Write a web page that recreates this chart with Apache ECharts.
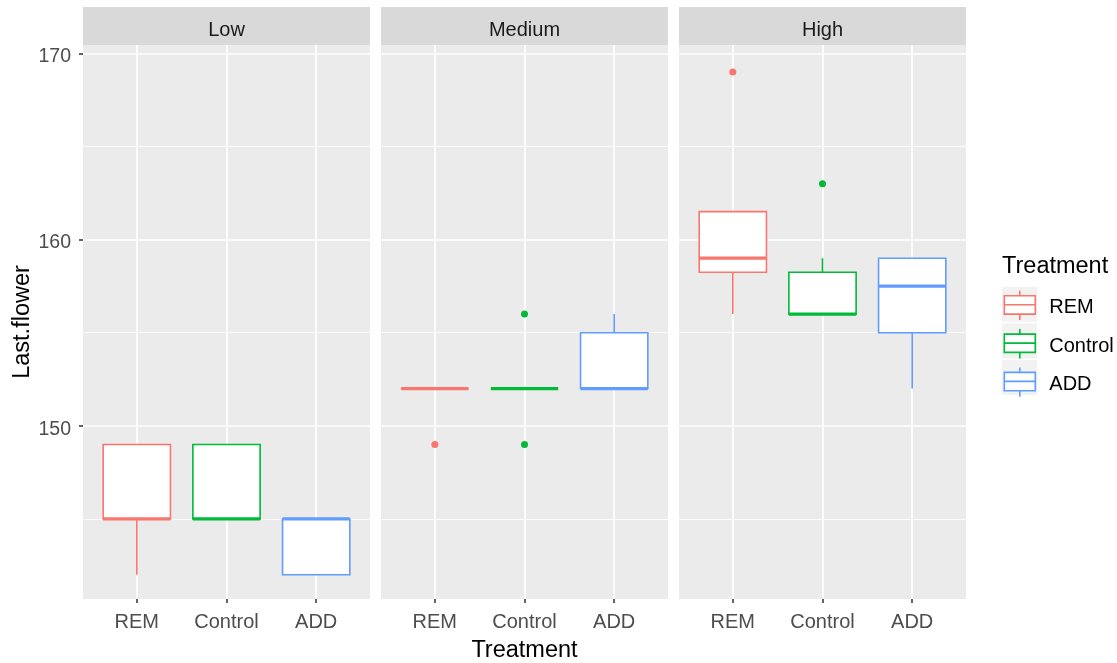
<!DOCTYPE html>
<html>
<head>
<meta charset="utf-8">
<title>Last.flower by Treatment</title>
<script src="https://cdn.jsdelivr.net/npm/echarts@6/dist/echarts.min.js"></script>
<style>
  html, body { margin: 0; padding: 0; background: #ffffff; }
  #chart { width: 1117px; height: 663px; }
</style>
</head>
<body>
<div id="chart"></div>
<script>
// Treatment groups (x categories inside every panel) and the facet levels
const treatments = ['REM', 'Control', 'ADD'];
const levels = ['Low', 'Medium', 'High'];

// Box statistics per treatment: [lower whisker, Q1, median, Q3, upper whisker]
const lowStats    = [[142, 145, 145, 149, 149], [145, 145, 145, 149, 149], [142, 142, 145, 145, 145]];
const mediumStats = [[152, 152, 152, 152, 152], [152, 152, 152, 152, 152], [152, 152, 152, 155, 156]];
const highStats   = [[156, 158.25, 159, 161.5, 161.5], [156, 156, 156, 158.25, 159], [152, 155, 157.5, 159, 159]];

// Outlying points per treatment
const lowOutliers    = [[], [], []];
const mediumOutliers = [[149], [156, 149], []];
const highOutliers   = [[169], [163], []];

// Axis ticks
const yMajorTicks = [150, 160, 170];
const yMinorTicks = [145, 155, 165];
const xTicks = [1, 2, 3];

const palette = ['#F8766D', '#00BA38', '#619CFF'];
const FONT = '"Liberation Sans", Arial, sans-serif';

const panelStats = [lowStats, mediumStats, highStats];
const panelOutliers = [lowOutliers, mediumOutliers, highOutliers];

const panelLefts = [83, 381, 679];
const panelWidth = 287;
const panelTop = 45;
const panelHeight = 554;
const yMin = 140.7, yMax = 170.45;

function boxRenderer(color) {
  return function (params, api) {
    const x = api.value(0);
    const lo = api.coord([x, api.value(1)]);
    const q1 = api.coord([x, api.value(2)]);
    const med = api.coord([x, api.value(3)]);
    const q3 = api.coord([x, api.value(4)]);
    const hi = api.coord([x, api.value(5)]);
    const half = api.size([0.75, 0])[0] / 2;
    const cx = lo[0];
    const lw = 1.6;
    return {
      type: 'group',
      children: [
        { type: 'line', shape: { x1: cx, y1: hi[1], x2: cx, y2: q3[1] }, style: { stroke: color, lineWidth: lw } },
        { type: 'line', shape: { x1: cx, y1: q1[1], x2: cx, y2: lo[1] }, style: { stroke: color, lineWidth: lw } },
        { type: 'rect', shape: { x: cx - half, y: q3[1], width: half * 2, height: q1[1] - q3[1] },
          style: { fill: '#ffffff', stroke: color, lineWidth: lw } },
        { type: 'line', shape: { x1: cx - half, y1: med[1], x2: cx + half, y2: med[1] },
          style: { stroke: color, lineWidth: 3.2 } }
      ]
    };
  };
}

const grids = [], xAxes = [], yAxes = [], series = [], graphics = [];

levels.forEach(function (level, p) {
  grids.push({
    left: panelLefts[p], top: panelTop, width: panelWidth, height: panelHeight,
    show: true, backgroundColor: '#EBEBEB', borderWidth: 0,
    containLabel: false, outerBoundsMode: 'none'
  });

  xAxes.push({
    gridIndex: p, type: 'value', min: 0.4, max: 3.6,
    name: p === 1 ? 'Treatment' : '', nameLocation: 'middle', nameGap: 40,
    nameTextStyle: { fontFamily: FONT, fontSize: 23.5, color: '#000000' },
    axisLine: { show: false },
    axisTick: { show: true, inside: false, length: 4, customValues: xTicks, lineStyle: { color: '#333333', width: 1.5 } },
    axisLabel: {
      show: true, customValues: xTicks, margin: 13,
      fontFamily: FONT, fontSize: 20, color: '#4D4D4D',
      formatter: function (v) { return treatments[Math.round(v) - 1]; }
    },
    splitLine: { show: true, customValues: xTicks, lineStyle: { color: '#ffffff', width: 1.7 } }
  });

  // major y axis
  yAxes.push({
    gridIndex: p, type: 'value', min: yMin, max: yMax, position: 'left',
    name: p === 0 ? 'Last.flower' : '', nameLocation: 'middle', nameGap: 48,
    nameTextStyle: { fontFamily: FONT, fontSize: 23.5, color: '#000000' },
    axisLine: { show: false },
    axisTick: { show: p === 0, inside: false, length: 4, customValues: yMajorTicks, lineStyle: { color: '#333333', width: 1.5 } },
    axisLabel: {
      show: p === 0, customValues: yMajorTicks, margin: 12,
      fontFamily: FONT, fontSize: 19.5, color: '#4D4D4D',
      formatter: function (v) { return '{v|' + v + '}'; },
      rich: { v: { fontFamily: FONT, fontSize: 19.5, color: '#4D4D4D', padding: [7, 0, 0, 0] } }
    },
    splitLine: { show: true, customValues: yMajorTicks, lineStyle: { color: '#ffffff', width: 1.7 } }
  });
  // minor y gridlines
  yAxes.push({
    gridIndex: p, type: 'value', min: yMin, max: yMax, position: 'right',
    axisLine: { show: false },
    axisTick: { show: false, customValues: yMinorTicks },
    axisLabel: { show: false, customValues: yMinorTicks },
    splitLine: { show: true, customValues: yMinorTicks, lineStyle: { color: '#ffffff', width: 0.85 } }
  });

  treatments.forEach(function (t, i) {
    const s = panelStats[p][i];
    series.push({
      name: t, type: 'custom', xAxisIndex: p, yAxisIndex: p * 2,
      renderItem: boxRenderer(palette[i]),
      encode: { x: 0, y: [1, 2, 3, 4, 5] },
      itemStyle: { color: palette[i] },
      data: [[i + 1].concat(s)],
      z: 3
    });
    const outs = panelOutliers[p][i];
    if (outs.length) {
      series.push({
        name: t, type: 'scatter', xAxisIndex: p, yAxisIndex: p * 2,
        symbol: 'circle', symbolSize: 7,
        itemStyle: { color: palette[i], opacity: 1 },
        data: outs.map(function (v) { return [i + 1, v]; }),
        z: 4
      });
    }
  });

  // facet strip
  graphics.push({
    type: 'rect', left: panelLefts[p], top: 7,
    shape: { width: panelWidth, height: 38 },
    style: { fill: '#D9D9D9' }, z: 0
  });
  graphics.push({
    type: 'text', x: panelLefts[p] + panelWidth / 2, y: 30,
    style: { text: level, fontFamily: FONT, fontSize: 20, fill: '#1A1A1A', align: 'center', verticalAlign: 'middle' },
    z: 1
  });
});

// legend key backgrounds
treatments.forEach(function (t, i) {
  graphics.push({
    type: 'rect', left: 1002, top: 286.7 + 36.7 * i,
    shape: { width: 35, height: 35 },
    style: { fill: '#F2F2F2' }, z: 0
  });
});

const keyIcon = 'path://M15.5,0 L15.5,5 M0,5 L31,5 L31,23.3 L0,23.3 Z M0,14 L31,14 M15.5,23.3 L15.5,29.3';

const option = {
  animation: false,
  backgroundColor: '#ffffff',
  textStyle: { fontFamily: FONT },
  title: {
    text: 'Treatment', left: 1002, top: 255, padding: 0,
    textStyle: { fontFamily: FONT, fontSize: 23.5, fontWeight: 'normal', color: '#000000' }
  },
  legend: {
    orient: 'vertical', left: 1003.5, top: 290, padding: 0,
    itemWidth: 31, itemHeight: 29.3, itemGap: 7.4,
    selectedMode: false,
    formatter: '{t|{name}}',
    textStyle: {
      fontFamily: FONT, fontSize: 20, color: '#000000', padding: [0, 0, 0, 9],
      rich: { t: { fontFamily: FONT, fontSize: 20, color: '#000000', padding: [5, 0, 0, 0] } }
    },
    data: treatments.map(function (t, i) {
      return {
        name: t, icon: keyIcon,
        itemStyle: { color: '#ffffff', borderColor: palette[i], borderWidth: 1.6 }
      };
    })
  },
  grid: grids,
  xAxis: xAxes,
  yAxis: yAxes,
  graphic: graphics,
  series: series
};

const chart = echarts.init(document.getElementById('chart'), null, { renderer: 'canvas' });
chart.setOption(option);
</script>
</body>
</html>
